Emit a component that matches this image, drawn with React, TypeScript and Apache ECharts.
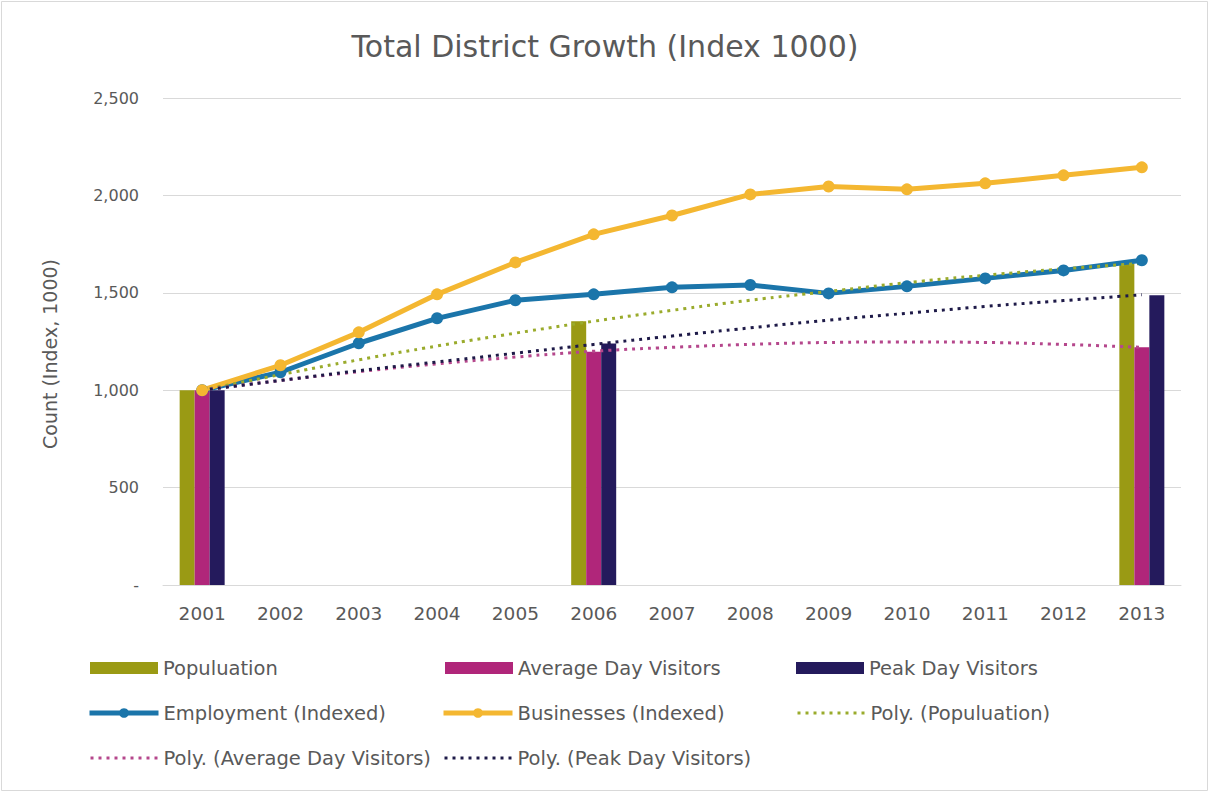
import React, { useEffect, useRef } from "react";
import * as echarts from "echarts";

const years = ["2001", "2002", "2003", "2004", "2005", "2006", "2007", "2008", "2009", "2010", "2011", "2012", "2013"];
const population = [1000, null, null, null, null, 1354, null, null, null, null, null, null, 1651];
const avgVisitors = [1000, null, null, null, null, 1198, null, null, null, null, null, null, 1220];
const peakVisitors = [1000, null, null, null, null, 1240, null, null, null, null, null, null, 1487];
const employment = [1000, 1092, 1241, 1369, 1462, 1492, 1528, 1540, 1497, 1533, 1574, 1615, 1667];
const businesses = [1000, 1128, 1297, 1492, 1656, 1800, 1897, 2005, 2046, 2031, 2062, 2103, 2144];
const polyPopulation = [1000, 1080, 1156, 1227, 1293, 1354, 1410, 1462, 1507, 1552, 1590, 1623, 1651];
const polyAvg = [1000, 1050, 1095, 1135, 1170, 1200, 1220, 1235, 1245, 1248, 1245, 1235, 1220];
const polyPeak = [1000, 1050, 1100, 1145, 1190, 1235, 1278, 1320, 1360, 1395, 1430, 1460, 1490];
const yTicks = [0, 500, 1000, 1500, 2000, 2500];

const FONT = "DejaVu Sans";
const TXT = "#595959";

export default function App() {
  const ref = useRef<HTMLDivElement>(null);
  useEffect(() => {
    const chart = echarts.init(ref.current!, null, { renderer: "svg" });
    const legendItem = (name: string, left: number, top: number, w: number, extra: any = {}) => ({
      data: [name],
      left,
      top,
      itemWidth: w,
      itemHeight: 12,
      itemGap: 8,
      textStyle: { color: TXT, fontSize: 19.5, fontFamily: FONT },
      selectedMode: false,
      ...extra,
    });
    const dotted = { itemStyle: { opacity: 0 }, lineStyle: { width: 3 } };
    chart.setOption({
      animation: false,
      backgroundColor: "#ffffff",
      title: {
        text: "Total District Growth (Index 1000)",
        left: "center",
        top: 26,
        textStyle: { color: TXT, fontSize: 30, fontWeight: "normal", fontFamily: FONT },
      },
      graphic: [
        {
          type: "rect",
          shape: { x: 1.5, y: 1.5, width: 1206, height: 789 },
          style: { fill: "none", stroke: "#d9d9d9", lineWidth: 1 },
          silent: true,
        },
        {
          type: "text",
          x: 50,
          y: 354,
          rotation: Math.PI / 2,
          style: {
            text: "Count (Index, 1000)",
            fill: TXT,
            fontSize: 19,
            fontFamily: FONT,
            align: "center",
            verticalAlign: "middle",
          },
          silent: true,
        },
      ],
      legend: [
        legendItem("Populuation", 85, 653, 68, { icon: "rect" }),
        legendItem("Average Day Visitors", 440, 653, 68, { icon: "rect" }),
        legendItem("Peak Day Visitors", 791, 653, 68, { icon: "rect" }),
        legendItem("Employment (Indexed)", 82, 698, 69, { lineStyle: { width: 5 } }),
        legendItem("Businesses (Indexed)", 436, 698, 69, { lineStyle: { width: 5 } }),
        legendItem("Poly. (Populuation)", 791, 698, 68, dotted),
        legendItem("Poly. (Average Day Visitors)", 84, 743, 68, dotted),
        legendItem("Poly. (Peak Day Visitors)", 438, 743, 68, dotted),
      ],
      grid: { left: 163, right: 29, top: 98, bottom: 209 },
      xAxis: {
        type: "category",
        data: years,
        axisLine: { show: true, lineStyle: { color: "#d9d9d9" } },
        axisTick: { show: false },
        axisLabel: { color: TXT, fontSize: 18.5, fontFamily: FONT, margin: 19 },
      },
      yAxis: {
        type: "value",
        min: yTicks[0],
        max: yTicks[yTicks.length - 1],
        interval: 500,
        axisLine: { show: false },
        axisTick: { show: false },
        splitLine: { lineStyle: { color: "#d9d9d9" } },
        axisLabel: {
          color: TXT,
          fontSize: 16,
          fontFamily: FONT,
          margin: 24,
          formatter: (v: number) => (v === 0 ? "-" : v.toLocaleString("en-US")),
        },
      },
      series: [
        { name: "Populuation", type: "bar", data: population, barWidth: 15, barGap: "0%", itemStyle: { color: "#9a9a14" } },
        { name: "Average Day Visitors", type: "bar", data: avgVisitors, barWidth: 15, barGap: "0%", itemStyle: { color: "#b0267a" } },
        { name: "Peak Day Visitors", type: "bar", data: peakVisitors, barWidth: 15, barGap: "0%", itemStyle: { color: "#241a5c" } },
        {
          name: "Employment (Indexed)",
          type: "line",
          data: employment,
          symbol: "circle",
          symbolSize: 12,
          lineStyle: { color: "#1b75aa", width: 5 },
          itemStyle: { color: "#1b75aa" },
        },
        {
          name: "Businesses (Indexed)",
          type: "line",
          data: businesses,
          symbol: "circle",
          symbolSize: 12,
          lineStyle: { color: "#f4b731", width: 5 },
          itemStyle: { color: "#f4b731" },
        },
        {
          name: "Poly. (Populuation)",
          type: "line",
          data: polyPopulation,
          symbol: "none",
          smooth: true,
          lineStyle: { color: "#9aab2c", width: 3, type: [3, 5] },
          itemStyle: { color: "#9aab2c" },
        },
        {
          name: "Poly. (Average Day Visitors)",
          type: "line",
          data: polyAvg,
          symbol: "none",
          smooth: true,
          lineStyle: { color: "#b5478c", width: 3, type: [3, 5] },
          itemStyle: { color: "#b5478c" },
        },
        {
          name: "Poly. (Peak Day Visitors)",
          type: "line",
          data: polyPeak,
          symbol: "none",
          smooth: true,
          lineStyle: { color: "#1e1a48", width: 3, type: [3, 5] },
          itemStyle: { color: "#1e1a48" },
        },
      ],
    });
    return () => chart.dispose();
  }, []);
  return (
    <div
      ref={ref}
      style={{ position: "fixed", left: 0, top: 0, width: 1210, height: 794 }}
    />
  );
}
